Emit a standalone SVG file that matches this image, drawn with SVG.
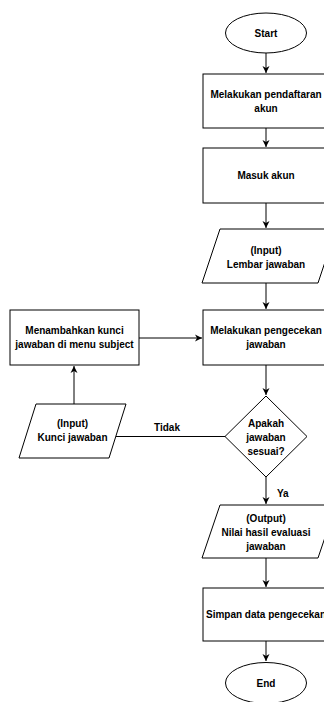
<svg xmlns="http://www.w3.org/2000/svg" width="324" height="702" viewBox="0 0 324 702">
<style>
.s{fill:#fff;stroke:#000;stroke-width:1}
.t{font-family:"Liberation Sans",Arial,sans-serif;font-size:10px;font-weight:bold;fill:#000;text-anchor:middle}
.c{stroke:#000;stroke-width:1;fill:none}
.l{font-family:"Liberation Sans",Arial,sans-serif;font-size:10px;font-weight:bold;fill:#000}
</style>
<defs>
<marker id="a" markerWidth="8" markerHeight="8" refX="7" refY="4" orient="auto" markerUnits="userSpaceOnUse">
<path d="M0,0.5 L7,4 L0,7.5 L2,4 Z" fill="#000"/>
</marker>
</defs>
<rect width="324" height="702" fill="#fff"/>
<g id="connectors">
<path class="c" d="M266,53 V73" marker-end="url(#a)"/>
<path class="c" d="M266,128 V147" marker-end="url(#a)"/>
<path class="c" d="M266,203 V228" marker-end="url(#a)"/>
<path class="c" d="M266,283 V309" marker-end="url(#a)"/>
<path class="c" d="M266,365 V395" marker-end="url(#a)"/>
<path class="c" d="M266,477 V504" marker-end="url(#a)"/>
<path class="c" d="M266,558 V587" marker-end="url(#a)"/>
<path class="c" d="M266,641 V661" marker-end="url(#a)"/>
<path class="c" d="M139,338 H202" marker-end="url(#a)"/>
<path class="c" d="M74,404 V366" marker-end="url(#a)"/>
<path class="c" d="M225,436.5 H116"/>
<text class="l" x="167" y="431" text-anchor="middle">Tidak</text>
<text class="l" x="277" y="497">Ya</text>
</g>
<g id="start">
<ellipse class="s" cx="266" cy="33" rx="40.5" ry="20"/>
<text class="t" x="266" y="37">Start</text>
</g>
<g id="daftar">
<rect class="s" x="203" y="74" width="126" height="54"/>
<text class="t" x="266" y="98">Melakukan pendaftaran</text>
<text class="t" x="266" y="112">akun</text>
</g>
<g id="masuk">
<rect class="s" x="203" y="148" width="126" height="55"/>
<text class="t" x="266" y="179">Masuk akun</text>
</g>
<g id="lembar">
<polygon class="s" points="220,229 336,229 318,283 202,283"/>
<text class="t" x="266" y="254">(Input)</text>
<text class="t" x="266" y="268">Lembar jawaban</text>
</g>
<g id="pengecekan">
<rect class="s" x="203" y="310" width="126" height="55"/>
<text class="t" x="266" y="334">Melakukan pengecekan</text>
<text class="t" x="266" y="348">jawaban</text>
</g>
<g id="menambahkan">
<rect class="s" x="10" y="310" width="129" height="55"/>
<text class="t" x="74.5" y="334">Menambahkan kunci</text>
<text class="t" x="74.5" y="348">jawaban di menu subject</text>
</g>
<g id="kunci">
<polygon class="s" points="36,404 126,404 109,458 19,458"/>
<text class="t" x="72.5" y="427">(Input)</text>
<text class="t" x="72.5" y="441">Kunci jawaban</text>
</g>
<g id="sesuai">
<polygon class="s" points="266,396 307,436.5 266,477 225,436.5"/>
<text class="t" x="266" y="427">Apakah</text>
<text class="t" x="266" y="441">jawaban</text>
<text class="t" x="266" y="455">sesuai?</text>
</g>
<g id="output">
<polygon class="s" points="220,505 336,505 318,558 202,558"/>
<text class="t" x="266" y="522">(Output)</text>
<text class="t" x="266" y="536">Nilai hasil evaluasi</text>
<text class="t" x="266" y="550">jawaban</text>
</g>
<g id="simpan">
<rect class="s" x="203" y="588" width="126" height="53"/>
<text class="t" x="266" y="618">Simpan data pengecekan</text>
</g>
<g id="end">
<ellipse class="s" cx="266" cy="683" rx="40.5" ry="20.5"/>
<text class="t" x="266" y="687">End</text>
</g>
</svg>
